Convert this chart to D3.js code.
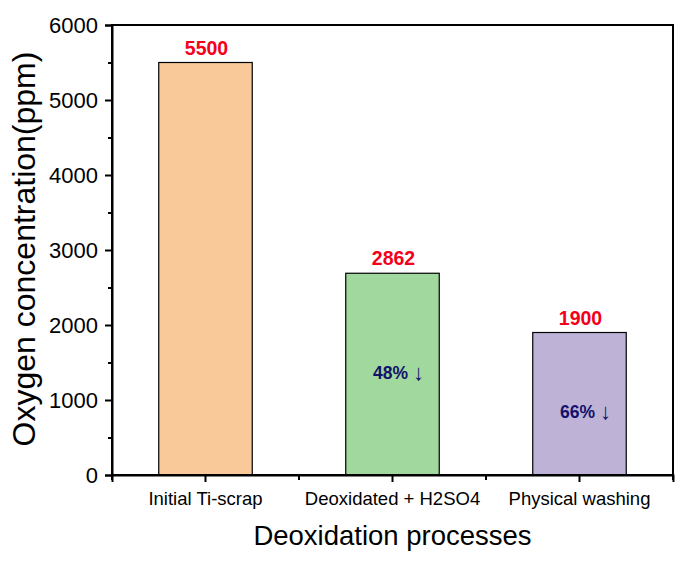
<!DOCTYPE html>
<html>
<head>
<meta charset="utf-8">
<script src="https://cdn.jsdelivr.net/npm/d3@7"></script>
<style>
  html, body { margin: 0; padding: 0; background: #fff; }
  svg { display: block; font-family: Arial, "Liberation Sans", sans-serif; }
</style>
</head>
<body>
<svg id="chart" width="687" height="563"></svg>
<script>
const categories = ["Initial Ti-scrap", "Deoxidated + H2SO4", "Physical washing"];
const values = [5500, 2690, 1900];
const valueLabels = ["5500", "2862", "1900"];
const reductionLabels = ["", "48%", "66%"];
const reductionValues = [null, 1280, 760];
const yTicks = [0, 1000, 2000, 3000, 4000, 5000, 6000];
const yMinorTicks = [500, 1500, 2500, 3500, 4500, 5500];
const colors = ["#F9C99A", "#A1D89E", "#BEB2D6"];

(function () {
const svg = d3.select("#chart");
const mLeft = 112, mRight = 673, mTop = 25, mBottom = 475;

const x = d3.scaleBand().domain(categories).range([mLeft, mRight]).paddingInner(0).paddingOuter(0);
const y = d3.scaleLinear().domain([0, 6000]).range([mBottom, mTop]);

// bars
const barW = x.bandwidth() * 0.5;
svg.selectAll("rect.bar").data(categories).join("rect")
  .attr("class", "bar")
  .attr("x", (d) => x(d) + (x.bandwidth() - barW) / 2)
  .attr("y", (d, i) => y(values[i]))
  .attr("width", barW)
  .attr("height", (d, i) => y(0) - y(values[i]))
  .attr("fill", (d, i) => colors[i])
  .attr("stroke", "#000")
  .attr("stroke-width", 1.2);

// value labels
svg.selectAll("text.val").data(categories).join("text")
  .attr("class", "val")
  .attr("x", (d) => x(d) + x.bandwidth() / 2 + 1)
  .attr("y", (d, i) => y(values[i]) - 8)
  .attr("text-anchor", "middle")
  .attr("font-size", 19.5)
  .attr("font-weight", "bold")
  .attr("fill", "#F5001A")
  .text((d, i) => valueLabels[i]);

// reduction labels
const redCats = categories.filter((d, i) => reductionLabels[i]);
const red = svg.selectAll("text.red").data(redCats).join("text")
  .attr("class", "red")
  .attr("x", (d) => x(d) + x.bandwidth() / 2 + 6)
  .attr("y", (d) => y(reductionValues[categories.indexOf(d)]))
  .attr("text-anchor", "middle")
  .attr("font-size", 17.5)
  .attr("font-weight", "bold")
  .attr("fill", "#12126B");
red.append("tspan").text((d) => reductionLabels[categories.indexOf(d)] + " ");
red.append("tspan").attr("font-size", 22).attr("font-weight", "normal").attr("dy", 1).text("\u2193");

// frame
svg.append("rect")
  .attr("x", mLeft).attr("y", mTop)
  .attr("width", mRight - mLeft).attr("height", mBottom - mTop)
  .attr("fill", "none").attr("stroke", "#000").attr("stroke-width", 2);

// y axis
const yAxis = svg.append("g").attr("transform", `translate(${mLeft},0)`)
  .call(d3.axisLeft(y).tickValues(yTicks).tickSize(7).tickPadding(7).tickFormat(d3.format("d")));
yAxis.select(".domain").attr("stroke-width", 2);
yAxis.selectAll(".tick line").attr("stroke-width", 2);
yAxis.selectAll(".tick text").attr("font-size", 22).attr("font-family", "Arial, 'Liberation Sans', sans-serif").attr("fill", "#000");
const yMinor = svg.append("g").attr("transform", `translate(${mLeft},0)`)
  .call(d3.axisLeft(y).tickValues(yMinorTicks).tickSize(4).tickFormat(""));
yMinor.select(".domain").remove();
yMinor.selectAll(".tick line").attr("stroke-width", 2);

// x axis
const xAxis = svg.append("g").attr("transform", `translate(0,${mBottom})`)
  .call(d3.axisBottom(x).tickSize(7).tickPadding(10));
xAxis.select(".domain").attr("stroke-width", 2);
xAxis.selectAll(".tick line").attr("stroke-width", 2);
xAxis.selectAll(".tick text").attr("font-size", 18.5).attr("font-family", "Arial, 'Liberation Sans', sans-serif").attr("fill", "#000");
const bounds = [0, 1, 2, 3].map((i) => mLeft + i * x.step());
svg.append("g").selectAll("line").data(bounds).join("line")
  .attr("x1", (d) => d).attr("x2", (d) => d)
  .attr("y1", mBottom).attr("y2", mBottom + 5)
  .attr("stroke", "#000").attr("stroke-width", 2);

// axis titles
svg.append("text")
  .attr("x", (mLeft + mRight) / 2).attr("y", 545)
  .attr("text-anchor", "middle")
  .attr("font-size", 27.5)
  .attr("fill", "#000")
  .text("Deoxidation processes");
svg.append("text")
  .attr("transform", `translate(35,${249}) rotate(-90)`)
  .attr("text-anchor", "middle")
  .attr("font-size", 32)
  .attr("fill", "#000")
  .text("Oxygen concentration(ppm)");
})();
</script>
</body>
</html>
